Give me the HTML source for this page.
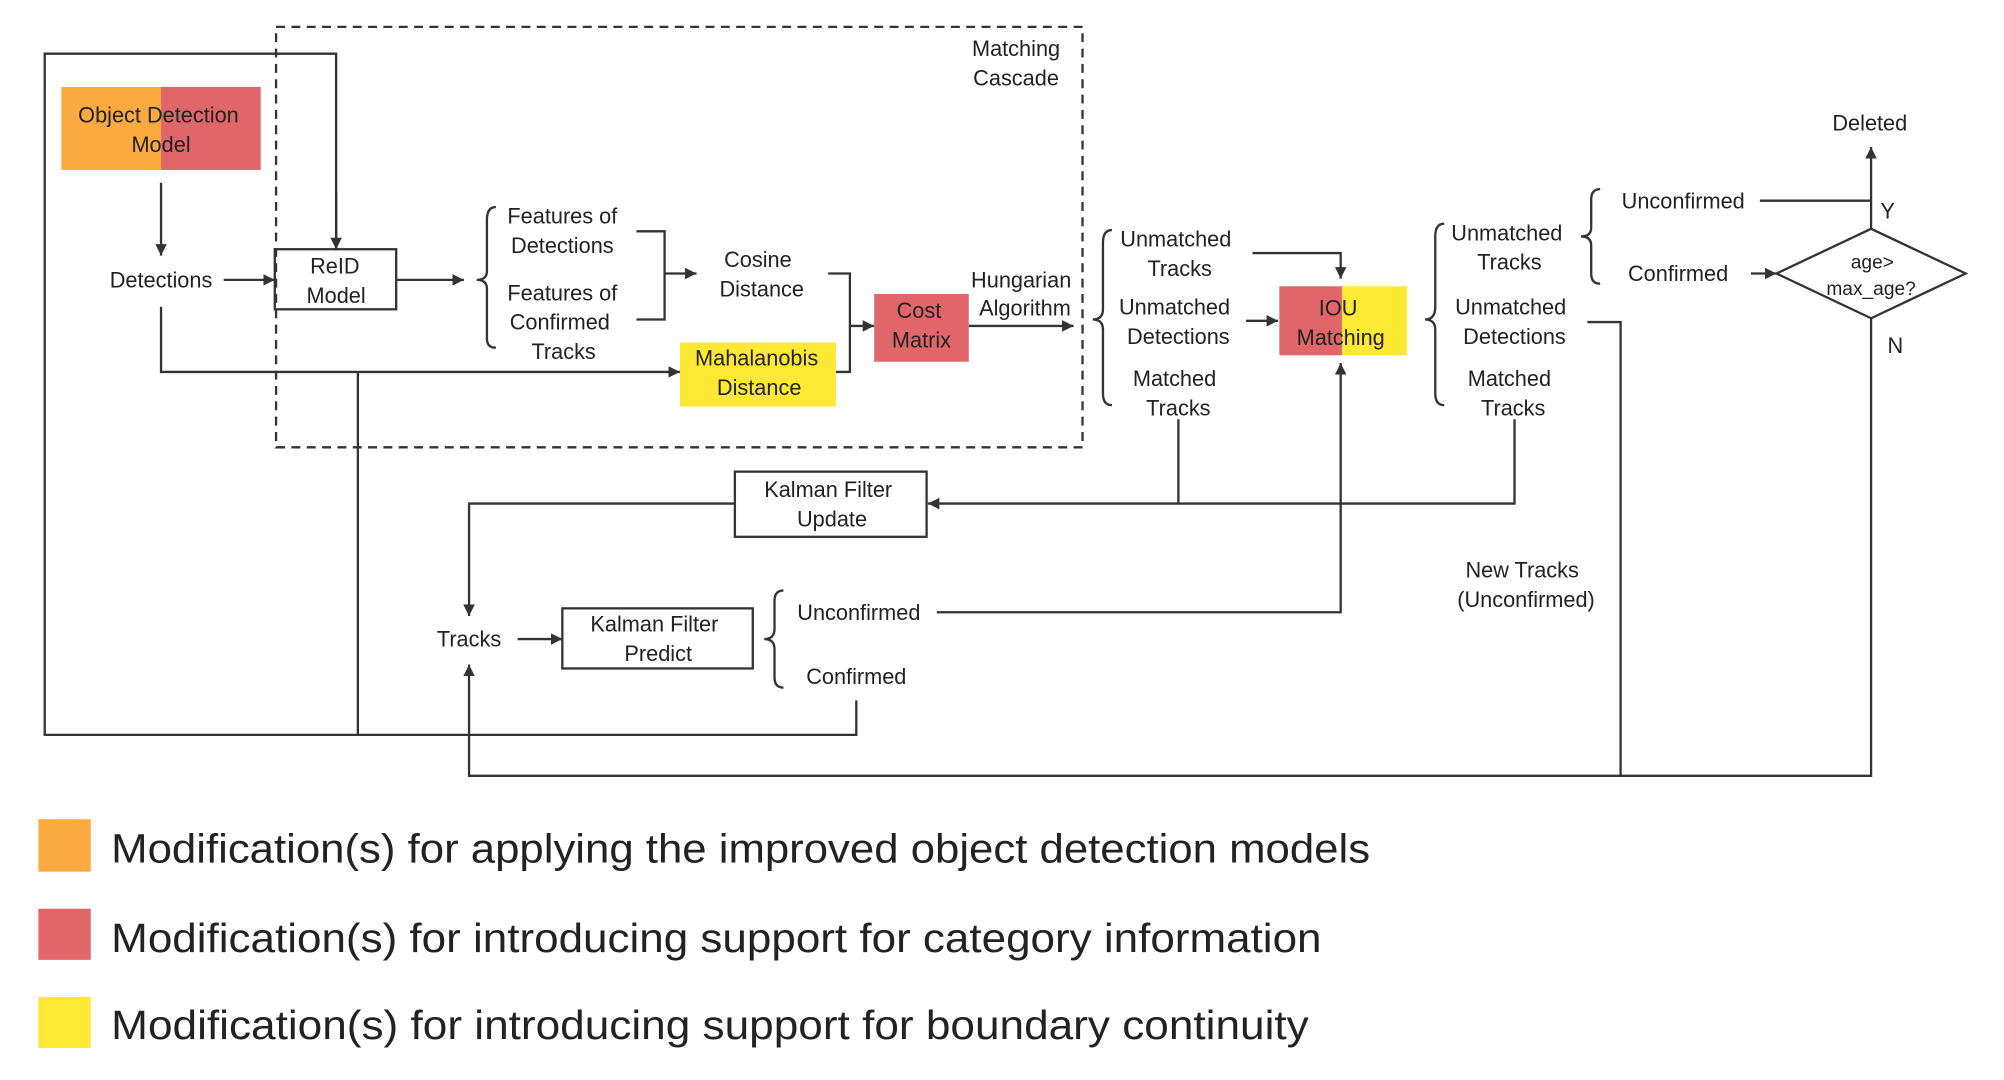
<!DOCTYPE html>
<html><head><meta charset="utf-8"><style>
html,body{margin:0;padding:0;background:#fff;}
svg{display:block;}
text{font-family:"Liberation Sans","DejaVu Sans",sans-serif;fill:#222;}
</style></head><body>
<svg width="2004" height="1080" viewBox="0 0 1568 845" preserveAspectRatio="none" xmlns="http://www.w3.org/2000/svg">
<defs>
<marker id="a" viewBox="0 0 10 10" refX="10" refY="5" markerWidth="9" markerHeight="9" markerUnits="userSpaceOnUse" orient="auto"><path d="M0,0 L10,5 L0,10 z" fill="#333"/></marker>
</defs>
<rect width="1568" height="845" fill="#fff"/>
<g fill="none" stroke="#333" stroke-width="1.8">
<rect x="216" y="21" width="631" height="329" stroke-dasharray="7,5"/>
<polyline points="263,195 263,42 35,42 35,575 670,575 670,548"/>
<line x1="263" y1="150" x2="263" y2="195" marker-end="url(#a)"/>
<line x1="280" y1="291" x2="280" y2="575"/>
<line x1="126" y1="143" x2="126" y2="200" marker-end="url(#a)"/>
<line x1="175" y1="219" x2="215" y2="219" marker-end="url(#a)"/>
<rect x="215" y="195" width="95" height="47"/>
<line x1="310" y1="219" x2="363" y2="219" marker-end="url(#a)"/>
<polyline points="126,240 126,291 532,291" marker-end="url(#a)"/>
<polyline points="498,181 520,181 520,250 498,250"/>
<line x1="520" y1="214" x2="545" y2="214" marker-end="url(#a)"/>
<polyline points="648,214 665,214 665,291 654,291"/>
<line x1="665" y1="255" x2="684" y2="255" marker-end="url(#a)"/>
<line x1="758" y1="255" x2="840" y2="255" marker-end="url(#a)"/>
<polyline points="980,198 1049,198 1049,218" marker-end="url(#a)"/>
<line x1="975" y1="251" x2="1000" y2="251" marker-end="url(#a)"/>
<polyline points="733,479 1049,479 1049,284" marker-end="url(#a)"/>
<polyline points="922,328 922,394"/>
<polyline points="1185,328 1185,394 726,394" marker-end="url(#a)"/>
<rect x="575" y="369" width="150" height="51"/>
<polyline points="575,394 367,394 367,482" marker-end="url(#a)"/>
<line x1="405" y1="500" x2="440" y2="500" marker-end="url(#a)"/>
<rect x="440" y="476" width="149" height="47"/>
<polyline points="1242,252 1268,252 1268,607"/>
<polyline points="1464,249 1464,607 367,607 367,520" marker-end="url(#a)"/>
<line x1="1377" y1="157" x2="1464" y2="157"/>
<line x1="1464" y1="180" x2="1464" y2="115" marker-end="url(#a)"/>
<polygon points="1390,214 1464,179 1538,214 1464,249"/>
<line x1="1370" y1="214" x2="1390" y2="214" marker-end="url(#a)"/>
<path d="M388,162 Q381,162 381,172 L381,212 Q381,219 373,219 Q381,219 381,226 L381,265 Q381,272 388,272"/>
<path d="M870,180 Q863,180 863,190 L863,242 Q863,250 855,250 Q863,250 863,258 L863,308 Q863,317 870,317"/>
<path d="M1130,175 Q1123,175 1123,185 L1123,240 Q1123,250 1115,250 Q1123,250 1123,258 L1123,308 Q1123,317 1130,317"/>
<path d="M1252,148 Q1245,148 1245,156 L1245,178 Q1245,185 1237,185 Q1245,185 1245,192 L1245,214 Q1245,222 1252,222"/>
<path d="M613,462 Q606,462 606,470 L606,492 Q606,500 598,500 Q606,500 606,508 L606,530 Q606,538 613,538"/>
</g>
<rect x="48" y="68" width="78" height="65" fill="#FBAA40"/>
<rect x="126" y="68" width="78" height="65" fill="#E0666A"/>
<rect x="532" y="268" width="122" height="50" fill="#FDE833"/>
<rect x="684" y="230" width="74" height="53" fill="#E0666A"/>
<rect x="1001" y="224" width="49" height="54" fill="#E0666A"/>
<rect x="1050" y="224" width="51" height="54" fill="#FDE833"/>
<g font-size="17" text-anchor="middle">
<text x="795" y="44">Matching</text><text x="795" y="67">Cascade</text>
<text x="124" y="96">Object Detection</text><text x="126" y="119">Model</text>
<text x="126" y="225">Detections</text>
<text x="262" y="214">ReID</text><text x="263" y="237">Model</text>
<text x="440" y="175">Features of</text><text x="440" y="198">Detections</text>
<text x="440" y="235">Features of</text><text x="438" y="258">Confirmed</text><text x="441" y="281">Tracks</text>
<text x="593" y="209">Cosine</text><text x="596" y="232">Distance</text>
<text x="592" y="286">Mahalanobis</text><text x="594" y="309">Distance</text>
<text x="719" y="249">Cost</text><text x="721" y="272">Matrix</text>
<text x="799" y="225">Hungarian</text><text x="802" y="247">Algorithm</text>
<text x="920" y="193">Unmatched</text><text x="923" y="216">Tracks</text>
<text x="919" y="246">Unmatched</text><text x="922" y="269">Detections</text>
<text x="919" y="302">Matched</text><text x="922" y="325">Tracks</text>
<text x="1047" y="247">IOU</text><text x="1049" y="270">Matching</text>
<text x="1179" y="188">Unmatched</text><text x="1181" y="211">Tracks</text>
<text x="1182" y="246">Unmatched</text><text x="1185" y="269">Detections</text>
<text x="1181" y="302">Matched</text><text x="1184" y="325">Tracks</text>
<text x="1317" y="163">Unconfirmed</text>
<text x="1313" y="220">Confirmed</text>
<text x="1463" y="102">Deleted</text>
<text x="1477" y="171">Y</text>
<text x="1483" y="276">N</text>
<text x="1465" y="210" font-size="15">age&gt;</text><text x="1464" y="231" font-size="15">max_age?</text>
<text x="648" y="389">Kalman Filter</text><text x="651" y="412">Update</text>
<text x="367" y="506">Tracks</text>
<text x="512" y="494">Kalman Filter</text><text x="515" y="517">Predict</text>
<text x="672" y="485">Unconfirmed</text>
<text x="670" y="535">Confirmed</text>
<text x="1191" y="452">New Tracks</text><text x="1194" y="475">(Unconfirmed)</text>
</g>
<rect x="30" y="641" width="41" height="41" fill="#FBAA40"/>
<rect x="30" y="711" width="41" height="40" fill="#E0666A"/>
<rect x="30" y="780" width="41" height="40" fill="#FDE833"/>
<g font-size="32" fill="#111">
<text x="87" y="675" textLength="985" lengthAdjust="spacingAndGlyphs">Modification(s) for applying the improved object detection models</text>
<text x="87" y="745" textLength="947" lengthAdjust="spacingAndGlyphs">Modification(s) for introducing support for category information</text>
<text x="87" y="813" textLength="937" lengthAdjust="spacingAndGlyphs">Modification(s) for introducing support for boundary continuity</text>
</g>
</svg>
</body></html>
